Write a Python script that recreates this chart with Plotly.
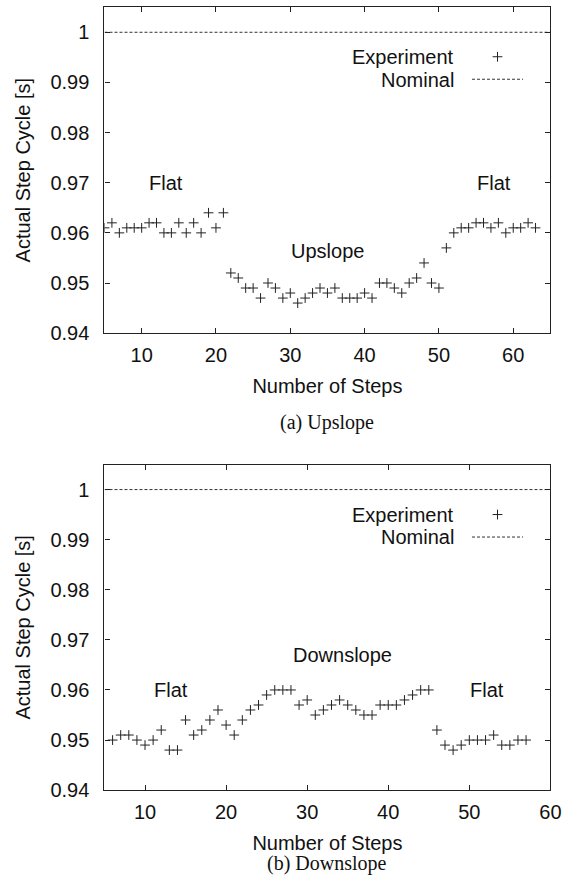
import plotly.graph_objects as go

# ---------------- data ----------------
up_steps = [5, 6, 7, 8, 9, 10, 11, 12, 13, 14, 15, 16, 17, 18, 19, 20, 21, 22, 23, 24,
            25, 26, 27, 28, 29, 30, 31, 32, 33, 34, 35, 36, 37, 38, 39, 40, 41, 42, 43, 44,
            45, 46, 47, 48, 49, 50, 51, 52, 53, 54, 55, 56, 57, 58, 59, 60, 61, 62, 63]
up_cycle = [0.961, 0.962, 0.960, 0.961, 0.961, 0.961, 0.962, 0.962, 0.960, 0.960,
            0.962, 0.960, 0.962, 0.960, 0.964, 0.961, 0.964, 0.952, 0.951, 0.949,
            0.949, 0.947, 0.950, 0.949, 0.947, 0.948, 0.946, 0.947, 0.948, 0.949,
            0.948, 0.949, 0.947, 0.947, 0.947, 0.948, 0.947, 0.950, 0.950, 0.949,
            0.948, 0.950, 0.951, 0.954, 0.950, 0.949, 0.957, 0.960, 0.961, 0.961,
            0.962, 0.962, 0.961, 0.962, 0.960, 0.961, 0.961, 0.962, 0.961]

down_steps = [6, 7, 8, 9, 10, 11, 12, 13, 14, 15, 16, 17, 18, 19, 20, 21, 22, 23, 24, 25,
              26, 27, 28, 29, 30, 31, 32, 33, 34, 35, 36, 37, 38, 39, 40, 41, 42, 43, 44, 45,
              46, 47, 48, 49, 50, 51, 52, 53, 54, 55, 56, 57]
down_cycle = [0.950, 0.951, 0.951, 0.950, 0.949, 0.950, 0.952, 0.948, 0.948, 0.954,
              0.951, 0.952, 0.954, 0.956, 0.953, 0.951, 0.954, 0.956, 0.957, 0.959,
              0.960, 0.960, 0.960, 0.957, 0.958, 0.955, 0.956, 0.957, 0.958, 0.957,
              0.956, 0.955, 0.955, 0.957, 0.957, 0.957, 0.958, 0.959, 0.960, 0.960,
              0.952, 0.949, 0.948, 0.949, 0.950, 0.950, 0.950, 0.951, 0.949, 0.949,
              0.950, 0.950]

nominal_cycle = 1.0
up_range = [5, 65]
down_range = [5, 60]

x_tickvals = [10, 20, 30, 40, 50, 60]
x_ticktext = ["10", "20", "30", "40", "50", "60"]
y_tickvals = [0.94, 0.95, 0.96, 0.97, 0.98, 0.99, 1.0]
y_ticktext = ["0.94", "0.95", "0.96", "0.97", "0.98", "0.99", "1"]

up_labels = [("Flat", 13.3, 0.970), ("Upslope", 35.0, 0.9563), ("Flat", 57.4, 0.970)]
down_labels = [("Downslope", 34.3, 0.967), ("Flat", 13.2, 0.960), ("Flat", 52.2, 0.960)]

series_names = ["Experiment", "Nominal"]
captions = ["(a) Upslope", "(b) Downslope"]
x_title = "Number of Steps"
y_title = "Actual Step Cycle [s]"

# ---------------- figure ----------------
W, H = 582, 894
SANS = "Liberation Sans, Arial, Helvetica, sans-serif"
SERIF = "Liberation Serif, Times New Roman, serif"
FS = 20
INK = "#111111"

fig = go.Figure()

panels = [
    dict(x=up_steps, y=up_cycle, rng=up_range, xa="x", ya="y", leg="legend", labels=up_labels),
    dict(x=down_steps, y=down_cycle, rng=down_range, xa="x2", ya="y2", leg="legend2", labels=down_labels),
]

for p in panels:
    fig.add_trace(go.Scatter(
        x=p["x"], y=p["y"], mode="markers", name="",
        marker=dict(symbol="cross-thin", size=7, line=dict(width=1, color="#222222"), color="#222222"),
        xaxis=p["xa"], yaxis=p["ya"], legend=p["leg"], showlegend=True,
        hovertext=series_names[0],
    ))
    fig.add_trace(go.Scatter(
        x=p["rng"], y=[nominal_cycle] * len(p["rng"]), mode="lines", name="",
        line=dict(color="#333333", width=1, dash="3px,2px"),
        xaxis=p["xa"], yaxis=p["ya"], legend=p["leg"], showlegend=True,
        hovertext=series_names[1],
    ))

x_dom = [106.5 / W, 561 / W]
top_dom = [1 - 337.3 / H, 1 - 7.3 / H]
bot_dom = [1 - 800.0 / H, 1 - 470.3 / H]

axis_common = dict(
    showline=True, linecolor="#222222", linewidth=1.2, mirror="ticks",
    ticks="inside", ticklen=5, tickwidth=1, tickcolor="#222222",
    showgrid=False, zeroline=False,
    tickfont=dict(family=SANS, size=FS, color=INK),
    title_font=dict(family=SANS, size=FS, color=INK),
)

legend_common = dict(xanchor="left", yanchor="top", bgcolor="rgba(0,0,0,0)",
                     itemwidth=51, font=dict(size=15, family=SANS), tracegroupgap=0)

fig.update_layout(
    width=W, height=H,
    margin=dict(l=0, r=0, t=0, b=0),
    paper_bgcolor="white", plot_bgcolor="white",
    showlegend=True,
    xaxis=dict(domain=x_dom, range=up_range, tickvals=x_tickvals, ticktext=x_ticktext,
               anchor="y", title=dict(text=x_title, standoff=13), ticklabelstandoff=4, **axis_common),
    yaxis=dict(domain=top_dom, range=[0.94, 1.005], tickvals=y_tickvals, ticktext=y_ticktext,
               anchor="x", title=dict(text=y_title, standoff=14), ticklabelstandoff=10, **axis_common),
    xaxis2=dict(domain=x_dom, range=down_range, tickvals=x_tickvals, ticktext=x_ticktext,
                anchor="y2", title=dict(text=x_title, standoff=13), ticklabelstandoff=4, **axis_common),
    yaxis2=dict(domain=bot_dom, range=[0.94, 1.005], tickvals=y_tickvals, ticktext=y_ticktext,
                anchor="x2", title=dict(text=y_title, standoff=14), ticklabelstandoff=10, **axis_common),
    legend=dict(x=476 / W, y=1 - 41 / H, **legend_common),
    legend2=dict(x=476 / W, y=1 - 504.5 / H, **legend_common),
)

# legend text (right-aligned, to the left of the legend symbols)
for leg_top in [58.0, 521.5]:
    for i, nm in enumerate(series_names):
        fig.add_annotation(
            text=nm, xref="paper", yref="paper",
            x=465 / W, y=1 - (leg_top + i * 22.5) / H,
            xanchor="right", yanchor="middle", showarrow=False,
            font=dict(family=SANS, size=FS, color=INK),
        )

# region labels
for p in panels:
    for txt, xv, yv in p["labels"]:
        fig.add_annotation(
            text=txt, x=xv, y=yv, xref=p["xa"], yref=p["ya"],
            showarrow=False, xanchor="center", yanchor="middle",
            font=dict(family=SANS, size=FS, color=INK),
        )

# captions
for cap, yc in zip(captions, [428, 874]):
    fig.add_annotation(
        text=cap, xref="paper", yref="paper", x=333 / W, y=1 - yc / H,
        xanchor="center", yanchor="middle", showarrow=False,
        font=dict(family=SERIF, size=20, color=INK),
    )

fig.write_html("out.html")
